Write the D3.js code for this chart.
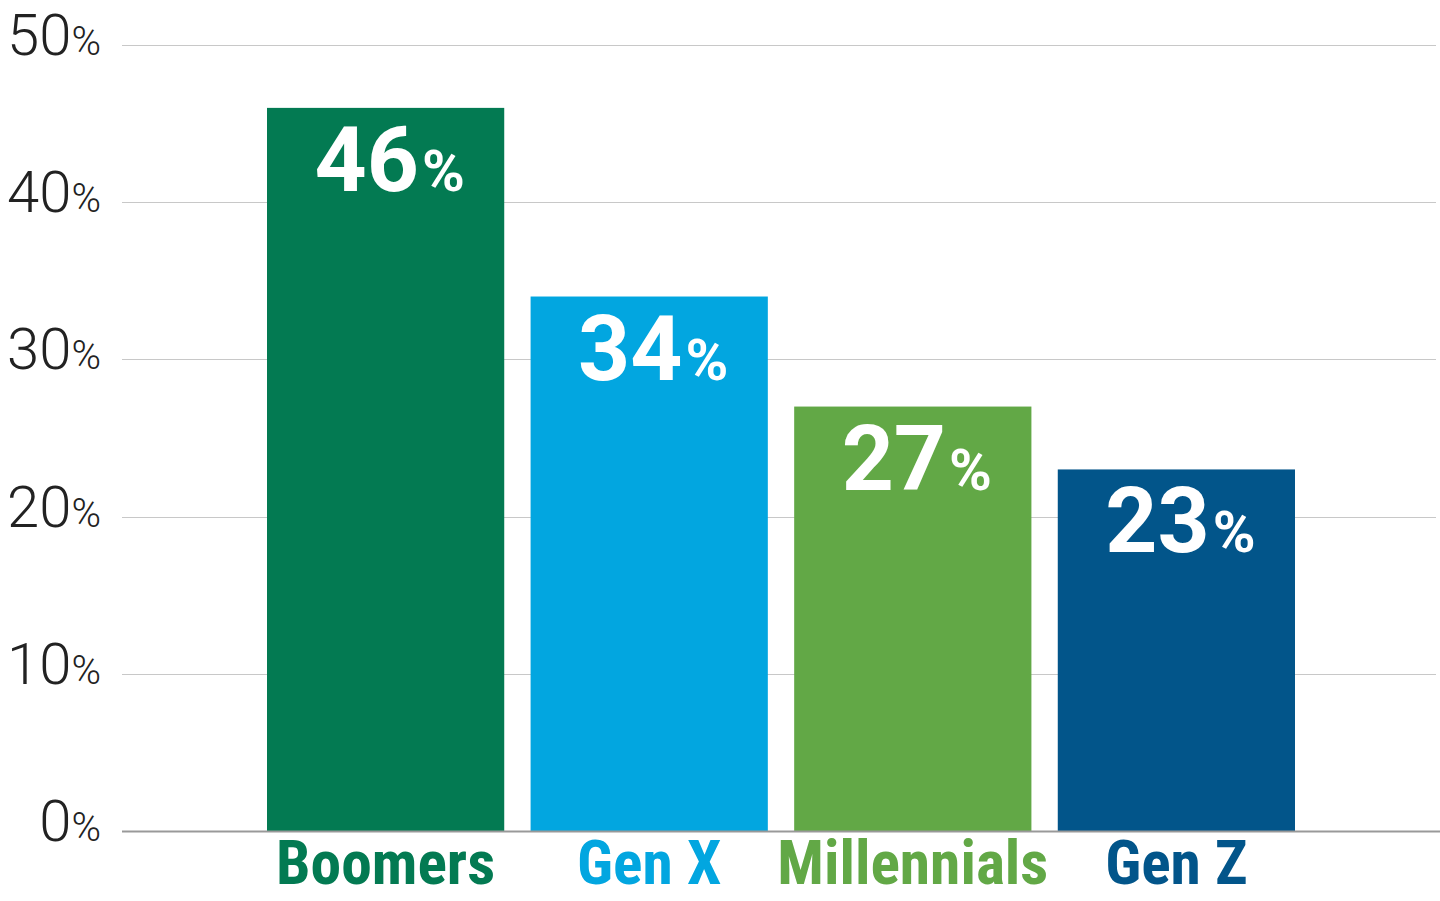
<!DOCTYPE html>
<html>
<head>
<meta charset="utf-8">
<script src="https://cdn.jsdelivr.net/npm/d3@7/dist/d3.min.js"></script>
<style>
  html, body { margin: 0; padding: 0; background: #fff; }
  svg { display: block; }
</style>
</head>
<body>
<svg id="chart" width="1440" height="901"></svg>
<script>
const categories = ["Boomers", "Gen X", "Millennials", "Gen Z"];
const values = [46, 34, 27, 23];
const colors = ["#037A52", "#02A6E0", "#62A846", "#02558A"];
const yTicks = [0, 10, 20, 30, 40, 50];

const svg = d3.select("#chart");
const x = d3.scaleBand().domain(categories).range([267, 1295]).paddingInner(0.1).paddingOuter(0);
const y = d3.scaleLinear().domain([0, 50]).range([831, 45]);

// gridlines
svg.append("g").selectAll("line").data(yTicks.filter(d => d > 0)).join("line")
  .attr("x1", 122).attr("x2", 1436)
  .attr("y1", d => Math.round(y(d)) + 0.5).attr("y2", d => Math.round(y(d)) + 0.5)
  .attr("stroke", "#c8c8c8").attr("stroke-width", 1);

// y labels
const yl = svg.append("g").selectAll("text").data(yTicks).join("text")
  .attr("x", 101).attr("y", d => y(d) + 10)
  .attr("text-anchor", "end")
  .attr("fill", "#222")
  .style("font-family", "Roboto, 'Noto Sans', sans-serif")
  .style("font-weight", 300);
yl.append("tspan").text(d => d).style("font-size", "58px");
yl.append("tspan").text("%").style("font-size", "40px");

// bars
svg.append("g").selectAll("rect").data(categories).join("rect")
  .attr("x", d => x(d)).attr("width", x.bandwidth())
  .attr("y", (d, i) => y(values[i])).attr("height", (d, i) => y(0) - y(values[i]))
  .attr("fill", (d, i) => colors[i]);

// zero line
svg.append("line").attr("x1", 122).attr("x2", 1440)
  .attr("y1", y(0) + 0.5).attr("y2", y(0) + 0.5)
  .attr("stroke", "#999").attr("stroke-width", 2);

// value labels
const vl = svg.append("g").selectAll("text").data(categories).join("text")
  .attr("x", d => x(d) + x.bandwidth() / 2 + 4)
  .attr("y", (d, i) => y(values[i]) + 83)
  .attr("text-anchor", "middle")
  .attr("fill", "#fff")
  .style("font-family", "Roboto, 'Noto Sans', sans-serif")
  .style("font-weight", 700);
vl.append("tspan").text((d, i) => values[i]).style("font-size", "91px");
vl.append("tspan").text("%").attr("dx", 3).style("font-size", "58px");

// category labels
svg.append("g").selectAll("text").data(categories).join("text")
  .attr("x", d => x(d) + x.bandwidth() / 2)
  .attr("y", 884)
  .attr("text-anchor", "middle")
  .attr("fill", (d, i) => colors[i])
  .style("font-family", "'Roboto Condensed', 'Liberation Sans Narrow', 'DejaVu Sans Condensed', sans-serif")
  .style("font-stretch", "condensed")
  .style("font-weight", 700)
  .style("font-size", "61.5px")
  .text(d => d);
</script>
</body>
</html>
